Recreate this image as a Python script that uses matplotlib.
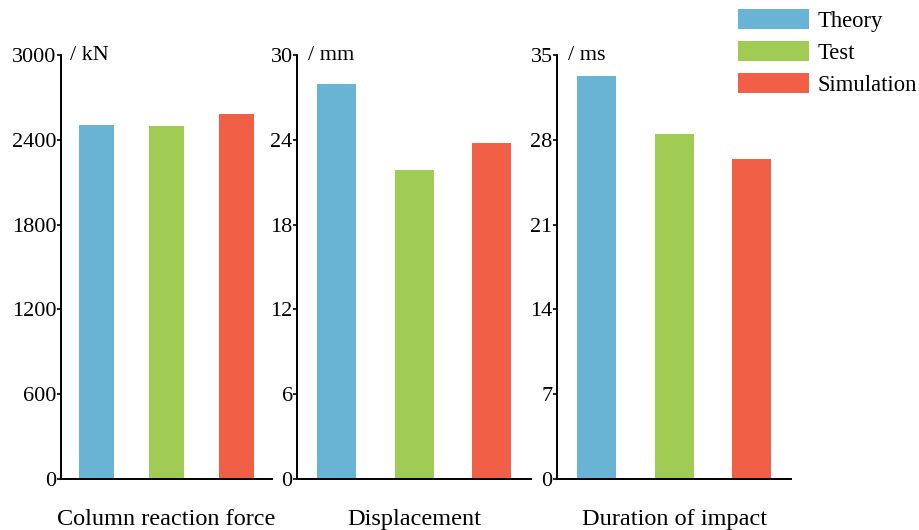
import matplotlib
matplotlib.use("Agg")
import matplotlib.pyplot as plt
from matplotlib.patches import Patch

plt.rcParams['font.family'] = ['Liberation Serif', 'DejaVu Serif']

series = ["Theory", "Test", "Simulation"]
colors = ["#69B4D5", "#A1CC53", "#F25F47"]

categories = ["Column reaction force", "Displacement", "Duration of impact"]
units = ["/ kN", "/ mm", "/ ms"]
force_values = [2505, 2495, 2580]
disp_values = [27.95, 21.85, 23.8]
dur_values = [33.3, 28.45, 26.4]
panel_values = [force_values, disp_values, dur_values]
y_max = [3000, 30, 35]
y_ticks = [[0, 600, 1200, 1800, 2400, 3000],
           [0, 6, 12, 18, 24, 30],
           [0, 7, 14, 21, 28, 35]]

W, H = 920, 530
fig = plt.figure(figsize=(W / 100, H / 100), dpi=100)

# pixel layout: (left, right)
panel_px = [(61, 272), (297.5, 530.7), (557.5, 790.7)]
top_px, bottom_px = 55, 479

for i, (l, r) in enumerate(panel_px):
    ax = fig.add_axes([l / W, 1 - bottom_px / H, (r - l) / W, (bottom_px - top_px) / H])
    x = range(len(series))
    ax.bar(x, panel_values[i], width=0.5, color=colors)
    ax.set_xlim(-0.5, 2.5)
    ax.set_ylim(0, y_max[i])
    ax.set_yticks(y_ticks[i])
    ax.set_xticks([])
    for s in ["top", "right"]:
        ax.spines[s].set_visible(False)
    for s in ["left", "bottom"]:
        ax.spines[s].set_linewidth(1.4)
    ax.tick_params(axis='y', direction='out', length=3, width=1.2, labelsize=16, pad=0.5)
    ax.text(0.045, 1.0, units[i], transform=ax.transAxes, fontsize=16,
            ha='left', va='center')
    ax.text(0.5, -0.095, categories[i], transform=ax.transAxes, fontsize=17.5,
            ha='center', va='center')

handles = [Patch(facecolor=c, edgecolor='none') for c in colors]
fig.legend(handles, series, loc='upper left', bbox_to_anchor=(729 / W, 1 - 0 / H),
           frameon=False, fontsize=16.3, handlelength=3.15, handleheight=0.95,
           handletextpad=0.38, labelspacing=0.42, borderaxespad=0)

fig.savefig("out.png", dpi=100)
